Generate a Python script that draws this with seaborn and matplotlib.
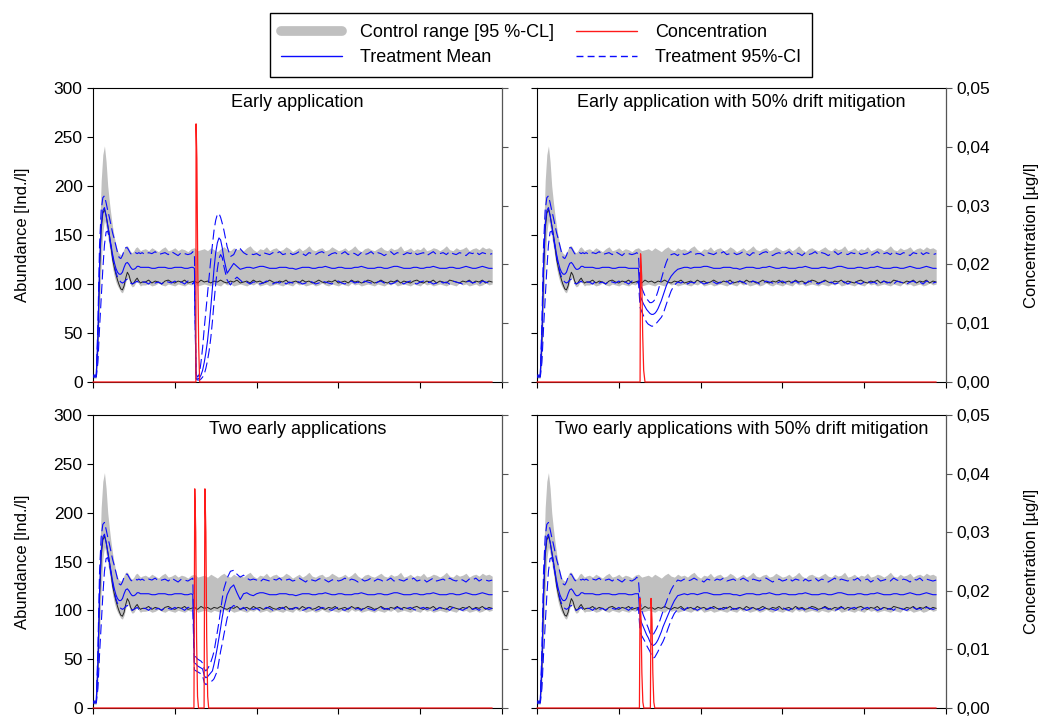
import numpy as np
import matplotlib
matplotlib.use("Agg")
import matplotlib.pyplot as plt
import seaborn as sns
from matplotlib.lines import Line2D
from matplotlib.ticker import FuncFormatter, MultipleLocator

# ---------------- data ----------------
days_early = list(range(0, 31))            # daily, days 0..30
days_steady = list(range(32, 245, 2))      # every 2 days, 32..244
event_days = list(range(60, 81)) + list(range(82, 99, 2))  # 60..80 daily, 82..98

# control range (shared by all panels)
ctrl_upper_early = [8, 8, 8, 60, 150, 205, 232, 241, 225, 200, 184, 170, 158, 148, 140, 134,
                    131, 130, 132, 136, 139, 139, 136, 133, 132, 134, 137, 138, 136, 134, 135]
ctrl_lower_early = [4, 4, 4, 25, 75, 120, 152, 165, 158, 148, 138, 127, 116, 108, 102, 98,
                    95, 92, 91, 95, 102, 107, 104, 99, 97, 98, 101, 103, 100, 98, 99]
ctrl_mean_early = [6, 6, 6, 40, 110, 155, 172, 176, 170, 160, 150, 138, 125, 117, 110, 104,
                   99, 95, 94, 98, 106, 112, 109, 103, 100, 101, 104, 106, 103, 101, 102]

ctrl_upper_steady = [136, 134, 137, 135, 133, 136, 138, 134, 135, 137,
                     134, 136, 135, 133, 136, 137, 134, 135, 136, 134,
                     137, 135, 133, 136, 138, 135, 134, 137, 135, 136,
                     134, 137, 139, 135, 133, 136, 135, 138, 134, 136,
                     137, 134, 135, 138, 136, 133, 135, 137, 134, 136,
                     139, 135, 134, 136, 137, 134, 135, 138, 136, 134,
                     135, 137, 134, 136, 139, 135, 133, 136, 137, 135,
                     134, 136, 138, 135, 134, 137, 135, 136, 139, 134,
                     135, 137, 134, 136, 135, 138, 134, 135, 137, 136,
                     134, 136, 139, 135, 134, 137, 135, 136, 138, 134,
                     136, 137, 135, 138, 136, 137, 135]
ctrl_lower_steady = [99, 100, 98, 99, 101, 99, 98, 100, 99, 98,
                     100, 99, 98, 100, 99, 101, 98, 99, 100, 99,
                     98, 100, 99, 98, 101, 99, 100, 98, 99, 100,
                     99, 98, 100, 99, 101, 98, 99, 100, 98, 99,
                     100, 99, 98, 100, 99, 98, 101, 99, 100, 98,
                     99, 100, 98, 99, 101, 99, 98, 100, 99, 98,
                     100, 99, 98, 101, 99, 100, 98, 99, 100, 99,
                     98, 100, 99, 98, 100, 99, 101, 98, 99, 100,
                     99, 98, 100, 99, 98, 101, 99, 100, 98, 99,
                     100, 99, 98, 100, 99, 98, 101, 99, 100, 98,
                     99, 100, 98, 99, 101, 99, 100]
ctrl_mean_steady = [102, 104, 101, 103, 102, 100, 103, 104, 102, 101,
                    103, 102, 104, 101, 102, 103, 101, 104, 102, 103,
                    101, 103, 102, 104, 102, 101, 103, 102, 104, 101,
                    102, 103, 101, 104, 102, 103, 101, 102, 104, 102,
                    101, 103, 102, 104, 101, 102, 103, 101, 104, 102,
                    103, 101, 102, 104, 102, 101, 103, 102, 104, 101,
                    102, 103, 101, 104, 102, 103, 101, 102, 104, 103,
                    101, 102, 104, 102, 101, 103, 102, 104, 101, 103,
                    102, 101, 103, 104, 102, 101, 103, 102, 104, 101,
                    103, 102, 101, 104, 103, 102, 101, 103, 102, 104,
                    101, 103, 102, 104, 101, 103, 102]

# treatment, outside the application window (shared)
trt_upper_early = [7, 7, 7, 60, 140, 175, 188, 190, 183, 175, 168, 160, 152, 146, 139, 132,
                   127, 126, 129, 134, 137, 137, 134, 131, 130, 131, 132, 131, 132, 131, 132]
trt_mean_early = [6, 6, 6, 50, 120, 160, 175, 178, 170, 160, 150, 140, 130, 122, 116, 112,
                  110, 110, 112, 117, 121, 122, 120, 117, 115, 115, 116, 118, 118, 117, 117]
trt_lower_early = [5, 5, 5, 20, 55, 85, 115, 140, 153, 154, 147, 138, 128, 119, 112, 107,
                   104, 102, 101, 102, 104, 105, 103, 101, 100, 101, 102, 103, 101, 101, 102]

trt_upper_steady = [130, 132, 131, 133, 130, 131, 132, 130, 133, 131,
                    129, 132, 131, 130, 133, 131, 132, 130, 131, 133,
                    131, 130, 132, 131, 129, 132, 131, 133, 130, 131,
                    132, 130, 131, 133, 131, 129, 132, 131, 130, 132,
                    131, 133, 130, 131, 132, 130, 131, 133, 131, 129,
                    132, 131, 130, 132, 133, 131, 129, 131, 132, 130,
                    131, 133, 130, 132, 131, 129, 132, 130, 131, 133,
                    130, 132, 131, 129, 131, 133, 130, 132, 131, 130,
                    132, 131, 133, 130, 131, 132, 129, 131, 133, 130,
                    131, 132, 130, 133, 131, 130, 132, 131, 129, 132,
                    131, 133, 130, 132, 131, 130, 131]
trt_mean_steady = [117, 117, 116, 116, 117, 117, 117, 116, 116, 117,
                   117, 117, 116, 116, 116, 117, 117, 117, 116, 116,
                   116, 117, 117, 118, 117, 116, 116, 116, 117, 117,
                   117, 116, 116, 116, 117, 118, 118, 117, 116, 116,
                   116, 117, 117, 117, 116, 116, 115, 116, 117, 117,
                   117, 116, 116, 117, 117, 118, 117, 116, 116, 117,
                   117, 116, 116, 116, 117, 117, 118, 117, 116, 116,
                   116, 117, 117, 116, 116, 117, 118, 118, 117, 116,
                   116, 116, 117, 117, 116, 116, 117, 117, 118, 117,
                   116, 116, 116, 117, 117, 116, 116, 117, 118, 117,
                   116, 116, 117, 118, 117, 116, 116]
trt_lower_steady = [102, 100, 103, 101, 102, 100, 103, 102, 101, 103,
                    101, 102, 100, 103, 102, 101, 102, 100, 103, 101,
                    102, 103, 100, 101, 103, 102, 100, 102, 101, 103,
                    100, 102, 101, 103, 102, 100, 101, 103, 102, 100,
                    102, 101, 103, 100, 102, 101, 103, 102, 100, 101,
                    103, 102, 100, 101, 103, 102, 101, 100, 102, 103,
                    101, 100, 102, 103, 101, 102, 100, 103, 102, 101,
                    100, 102, 103, 101, 102, 100, 101, 103, 102, 100,
                    102, 103, 101, 100, 102, 103, 101, 102, 100, 101,
                    103, 101, 102, 100, 103, 102, 101, 100, 102, 103,
                    101, 102, 100, 103, 102, 101, 102]

# treatment during the application window (days 60..98), per panel
early_upper = [131, 133, 131, 8, 5, 8, 20, 35, 55, 72, 90, 108, 125, 140, 155, 165, 171, 172, 168, 162, 155,
               138, 128, 130, 137, 136, 132, 130, 131, 130]
early_mean = [117, 117, 116, 4, 3, 4, 7, 12, 20, 30, 42, 58, 76, 96, 116, 132, 142, 147, 145, 137, 126,
              111, 116, 121, 118, 115, 116, 117, 117, 116]
early_lower = [102, 100, 103, 3, 2, 2, 3, 5, 8, 14, 22, 32, 45, 62, 82, 100, 115, 126, 130, 127, 118,
               104, 99, 104, 107, 104, 101, 102, 100, 102]

mitig_upper = [131, 132, 130, 100, 96, 92, 88, 85, 83, 81, 81, 82, 84, 88, 93, 99, 105, 111, 117, 122, 126,
               130, 131, 129, 132, 130, 131, 133, 130, 131]
mitig_mean = [116, 116, 116, 88, 84, 80, 77, 74, 72, 70, 69, 69, 70, 72, 75, 79, 83, 88, 93, 98, 102,
              108, 112, 115, 116, 117, 117, 116, 117, 117]
mitig_lower = [102, 101, 103, 76, 72, 68, 64, 61, 59, 58, 57, 57, 58, 60, 62, 64, 66, 69, 74, 79, 84,
               93, 99, 102, 101, 103, 100, 102, 101, 103]

two_upper = [132, 133, 54, 52, 50, 49, 48, 46, 40, 38, 40, 43, 47, 52, 58, 68, 78, 88, 100, 112, 122,
             133, 140, 141, 137, 134, 136, 133, 131, 132]
two_mean = [117, 116, 46, 45, 43, 42, 41, 40, 33, 31, 32, 34, 36, 38, 45, 53, 62, 72, 82, 93, 102,
            116, 123, 126, 118, 111, 117, 118, 116, 115]
two_lower = [103, 101, 39, 38, 37, 36, 35, 33, 26, 24, 25, 26, 27, 28, 30, 34, 38, 48, 58, 66, 75,
             92, 102, 105, 103, 101, 103, 100, 102, 101]

twomit_upper = [132, 134, 131, 110, 100, 95, 91, 86, 82, 77, 74, 75, 78, 81, 85, 89, 94, 99, 104, 108, 113,
                121, 127, 131, 130, 132, 130, 131, 133, 131]
twomit_mean = [117, 117, 117, 92, 87, 83, 79, 75, 72, 68, 65, 64, 65, 67, 70, 74, 78, 83, 87, 91, 95,
               103, 110, 115, 116, 117, 116, 117, 117, 116]
twomit_lower = [102, 100, 103, 78, 74, 71, 68, 64, 61, 58, 54, 51, 52, 55, 58, 62, 65, 68, 72, 76, 81,
                90, 97, 101, 102, 100, 103, 101, 102, 100]

# concentration (µg/l)
conc_early_x = [0, 62.9, 63.0, 63.5, 64.0, 64.6, 65.2, 244]
conc_early_y = [0, 0, 0.0439, 0.038, 0.020, 0.006, 0, 0]
conc_mitig_x = [0, 63.0, 63.3, 64.0, 64.6, 65.2, 66.0, 244]
conc_mitig_y = [0, 0, 0.0218, 0.018, 0.008, 0.002, 0, 0]
conc_two_x = [0, 61.7, 62.2, 62.8, 63.3, 63.9, 64.5, 67.9, 68.4, 69.0, 69.5, 70.1, 70.7, 244]
conc_two_y = [0, 0, 0.0374, 0.030, 0.012, 0.002, 0, 0, 0.0374, 0.030, 0.012, 0.002, 0, 0]
conc_twomit_x = [0, 62.6, 63.0, 63.6, 64.1, 64.7, 65.3, 69.3, 69.7, 70.3, 70.8, 71.4, 72.0, 244]
conc_twomit_y = [0, 0, 0.0187, 0.015, 0.006, 0.001, 0, 0, 0.0187, 0.015, 0.006, 0.001, 0, 0]

titles = ["Early application", "Early application with 50% drift mitigation",
          "Two early applications", "Two early applications with 50% drift mitigation"]
abund_ticks = [0, 50, 100, 150, 200, 250, 300]
conc_ticks = [0.00, 0.01, 0.02, 0.03, 0.04, 0.05]
# legend entries, listed column by column (col 1: control / mean, col 2: conc / CI)
legend_labels = ["Control range [95 %-CL]", "Treatment Mean", "Concentration", "Treatment 95%-CI"]

# ---------------- assemble ----------------
base_x = np.array(days_early + days_steady, dtype=float)
ctrl_upper = np.array(ctrl_upper_early + ctrl_upper_steady, dtype=float)
ctrl_lower = np.array(ctrl_lower_early + ctrl_lower_steady, dtype=float)
ctrl_mean = np.array(ctrl_mean_early + ctrl_mean_steady, dtype=float)
trt_upper_base = np.array(trt_upper_early + trt_upper_steady, dtype=float)
trt_mean_base = np.array(trt_mean_early + trt_mean_steady, dtype=float)
trt_lower_base = np.array(trt_lower_early + trt_lower_steady, dtype=float)
pre = base_x < 60
post = base_x >= 100


def splice(base, window):
    x = np.concatenate([base_x[pre], np.array(event_days, dtype=float), base_x[post]])
    y = np.concatenate([base[pre], np.array(window, dtype=float), base[post]])
    return x, y


panels = [
    (early_upper, early_mean, early_lower, conc_early_x, conc_early_y),
    (mitig_upper, mitig_mean, mitig_lower, conc_mitig_x, conc_mitig_y),
    (two_upper, two_mean, two_lower, conc_two_x, conc_two_y),
    (twomit_upper, twomit_mean, twomit_lower, conc_twomit_x, conc_twomit_y),
]

# ---------------- style ----------------
sns.set_style("ticks")
plt.rcParams["font.family"] = ["Liberation Sans", "DejaVu Sans"]
plt.rcParams["text.color"] = "black"
plt.rcParams["axes.labelcolor"] = "black"
plt.rcParams["xtick.color"] = "black"
plt.rcParams["ytick.color"] = "black"

BLUE = "#0a0aff"
RED = "#ff1a1a"
GREY = "#c0c0c0"
DASH = (0, (9, 4))

fig = plt.figure(figsize=(10.41, 7.2), dpi=100)
rects = [
    [93 / 1041, 1 - 382 / 720, 409 / 1041, 294 / 720],
    [537 / 1041, 1 - 382 / 720, 409 / 1041, 294 / 720],
    [93 / 1041, 1 - 708 / 720, 409 / 1041, 293 / 720],
    [537 / 1041, 1 - 708 / 720, 409 / 1041, 293 / 720],
]

comma_fmt = FuncFormatter(lambda v, p: f"{v:.2f}".replace(".", ","))

for i, (rect, (u, m, l, cx, cy)) in enumerate(zip(rects, panels)):
    ax = fig.add_axes(rect)
    ax.fill_between(base_x, ctrl_lower, ctrl_upper, color=GREY, lw=0, zorder=1)
    sns.lineplot(x=base_x, y=ctrl_mean, ax=ax, color="#222222", lw=0.7, zorder=2)
    tx, tm = splice(trt_mean_base, m)
    _, tu = splice(trt_upper_base, u)
    _, tl = splice(trt_lower_base, l)
    sns.lineplot(x=tx, y=tm, ax=ax, color=BLUE, lw=0.8, zorder=3)
    sns.lineplot(x=tx, y=tu, ax=ax, color=BLUE, lw=0.8, linestyle=DASH, zorder=3)
    sns.lineplot(x=tx, y=tl, ax=ax, color=BLUE, lw=0.8, linestyle=DASH, zorder=3)

    ax.set_xlim(0, 250)
    ax.set_ylim(0, 300)
    ax.xaxis.set_major_locator(MultipleLocator(50))
    ax.set_yticks(abund_ticks)
    ax.set_xticklabels([])
    ax.set_xlabel("")
    ax.tick_params(direction="out", length=4, width=0.8, labelsize=12.5, colors="black")
    for s in ax.spines.values():
        s.set_color("black")
        s.set_linewidth(0.8)

    ax2 = ax.twinx()
    sns.lineplot(x=cx, y=cy, ax=ax2, color=RED, lw=0.9, clip_on=False)
    ax2.set_ylim(0, 0.05)
    ax2.set_yticks(conc_ticks)
    ax2.yaxis.set_major_formatter(comma_fmt)
    ax2.tick_params(direction="out", length=4, width=0.8, labelsize=12.5, color="#555555",
                    labelcolor="black")
    ax2.spines["right"].set_color("#555555")
    ax2.spines["right"].set_linewidth(0.8)
    for k in ["left", "top", "bottom"]:
        ax2.spines[k].set_visible(False)

    if i % 2 == 0:
        ax.set_ylabel("Abundance [Ind./l]", fontsize=12)
        ax.yaxis.set_label_coords(-0.155, 0.5)
        ax2.set_yticklabels([])
        ax2.set_ylabel("")
    else:
        ax.set_yticklabels([])
        ax.set_ylabel("")
        ax2.set_ylabel("Concentration [µg/l]", fontsize=12)
        ax2.yaxis.set_label_coords(1.19, 0.5)

    ax.text(0.5, 0.95, titles[i], transform=ax.transAxes, ha="center", va="center",
            fontsize=13, color="black", zorder=10)

handles = [
    Line2D([0], [0], color=GREY, lw=7),
    Line2D([0], [0], color=BLUE, lw=1.0),
    Line2D([0], [0], color=RED, lw=1.0),
    Line2D([0], [0], color=BLUE, lw=1.0, linestyle=(0, (5, 3))),
]
leg = fig.legend(handles, legend_labels, ncol=2, loc="upper center",
                 bbox_to_anchor=(541 / 1041, 1 - 4 / 720), fontsize=13,
                 frameon=True, fancybox=False, edgecolor="black", framealpha=1,
                 handlelength=3.4, handletextpad=1.0, columnspacing=1.2,
                 labelspacing=0.45, borderpad=0.6)
leg.get_frame().set_linewidth(1.0)

fig.savefig("out.png", dpi=100)
